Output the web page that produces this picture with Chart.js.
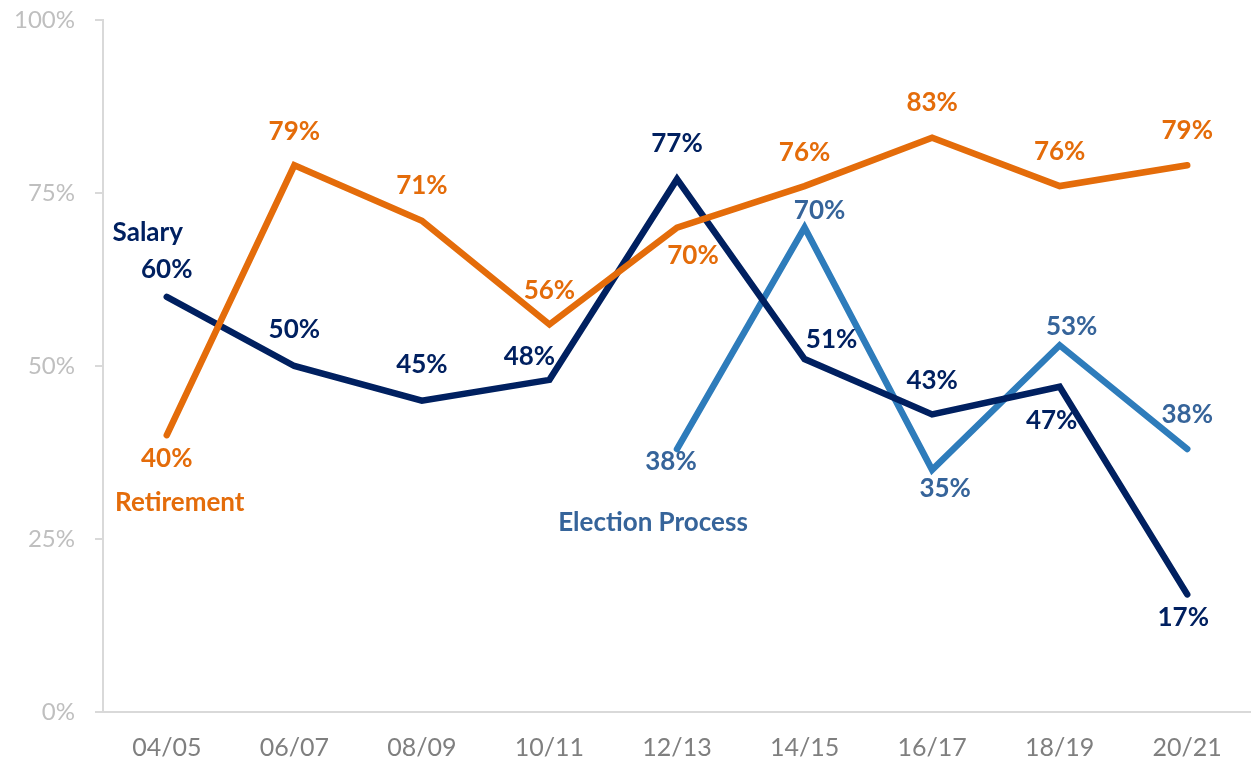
<!DOCTYPE html>
<html>
<head>
<meta charset="utf-8">
<script src="https://cdn.jsdelivr.net/npm/chart.js@4.4.1/dist/chart.umd.min.js"></script>
<style>
  html, body { margin: 0; padding: 0; background: #fff; }
  #wrap { width: 1251px; height: 766px; }
</style>
</head>
<body>
<div id="wrap"><canvas id="chart" width="1251" height="766"></canvas></div>
<script>
const years = ['04/05', '06/07', '08/09', '10/11', '12/13', '14/15', '16/17', '18/19', '20/21'];
const retirement = [40, 79, 71, 56, 70, 76, 83, 76, 79];
const salary = [60, 50, 45, 48, 77, 51, 43, 47, 17];
const election = [null, null, null, null, 38, 70, 35, 53, 38];
const yTicks = [0, 25, 50, 75, 100];

// where each value label sits relative to its point, in px
const retirementLabelPos = [[0, 23], [0, -34], [0, -35], [0, -34], [16, 28], [0, -33], [0, -35], [0, -34], [0, -35]];
const salaryLabelPos = [[0, -27], [0, -36], [0, -36], [-20, -23], [0, -36], [27, -19], [0, -34], [-8, 34], [-4, 23]];
const electionLabelPos = [null, null, null, null, [-6, 13], [15, -17], [13, 19], [12, -19], [0, -34]];

const ORANGE = '#E46C0A';
const NAVY = '#002060';
const BLUE = '#2E7CBB';
const BLUE_TEXT = '#36649A';
const FONT = 'Lato, "Open Sans", sans-serif';

// series name: dataset index, anchor point index, offset, colour
const seriesNames = [
  { text: 'Salary', ds: 1, idx: 0, dx: -19, dy: -64, color: NAVY },
  { text: 'Retirement', ds: 0, idx: 0, dx: 13, dy: 67, color: ORANGE },
  { text: 'Election Process', ds: 2, idx: 4, dx: -24, dy: 74, color: BLUE_TEXT }
];

const labelPlugin = {
  id: 'pointLabels',
  afterDatasetsDraw(chart) {
    const ctx = chart.ctx;
    ctx.save();
    ctx.font = 'bold 26px ' + FONT;
    ctx.textAlign = 'center';
    ctx.textBaseline = 'middle';
    chart.data.datasets.forEach((ds, di) => {
      const meta = chart.getDatasetMeta(di);
      ds.data.forEach((v, i) => {
        if (v == null) return;
        const pos = ds.labelPos[i];
        const pt = meta.data[i];
        ctx.fillStyle = ds.labelColor;
        ctx.fillText(v + '%', pt.x + pos[0], pt.y + pos[1]);
      });
    });
    seriesNames.forEach(s => {
      const pt = chart.getDatasetMeta(s.ds).data[s.idx];
      ctx.fillStyle = s.color;
      ctx.fillText(s.text, pt.x + s.dx, pt.y + s.dy);
    });
    ctx.restore();
  }
};

function line(label, data, color, labelColor, labelPos) {
  return {
    label, data,
    borderColor: color,
    backgroundColor: color,
    borderWidth: 6.5,
    borderCapStyle: 'round',
    pointRadius: 0,
    pointHoverRadius: 0,
    tension: 0,
    spanGaps: false,
    labelColor, labelPos
  };
}

new Chart(document.getElementById('chart'), {
  type: 'line',
  data: {
    labels: years,
    datasets: [
      line('Retirement', retirement, ORANGE, ORANGE, retirementLabelPos),
      line('Salary', salary, NAVY, NAVY, salaryLabelPos),
      line('Election Process', election, BLUE, BLUE_TEXT, electionLabelPos)
    ]
  },
  options: {
    responsive: false,
    animation: false,
    layout: { padding: { top: 20, right: 0, bottom: 0, left: 0 } },
    plugins: { legend: { display: false }, tooltip: { enabled: false } },
    scales: {
      x: {
        offset: true,
        afterFit(scale) { scale.height = 54; },
        grid: { display: true, drawOnChartArea: false, drawTicks: false },
        border: { display: true, color: '#D9D9D9', width: 2 },
        ticks: { color: '#7F7F7F', font: { family: FONT, size: 25 }, padding: 21, maxRotation: 0 }
      },
      y: {
        min: 0,
        max: 100,
        afterBuildTicks(scale) { scale.ticks = yTicks.map(v => ({ value: v })); },
        afterFit(scale) {
          scale.width = 103;
          scale.paddingTop = 0;
          scale.paddingBottom = 0;
        },
        grid: { display: true, drawOnChartArea: false, drawTicks: true, tickLength: 8, color: '#D9D9D9', lineWidth: 2 },
        border: { display: true, color: '#D9D9D9', width: 2 },
        ticks: {
          color: '#BFBFBF',
          font: { family: FONT, size: 24 },
          padding: 20,
          callback: v => v + '%'
        }
      }
    }
  },
  plugins: [labelPlugin]
});
</script>
</body>
</html>
